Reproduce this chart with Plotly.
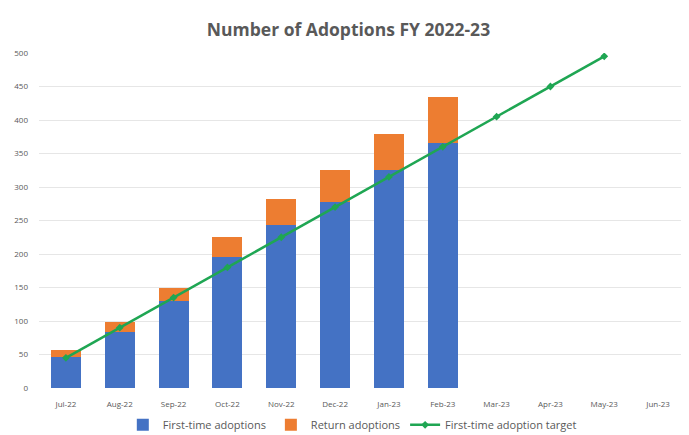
import plotly.graph_objects as go

months = ["Jul-22", "Aug-22", "Sep-22", "Oct-22", "Nov-22", "Dec-22",
          "Jan-23", "Feb-23", "Mar-23", "Apr-23", "May-23", "Jun-23"]
first_time = [47, 84, 130, 196, 243, 277, 325, 366, None, None, None, None]
returns = [9, 14, 19, 29, 39, 48, 54, 68, None, None, None, None]
target = [45, 90, 135, 180, 225, 270, 315, 360, 405, 450, 495, None]
y_ticks = [0, 50, 100, 150, 200, 250, 300, 350, 400, 450, 500]

font_family = "Open Sans, Liberation Sans, sans-serif"
gray = "#595959"

fig = go.Figure()
fig.add_trace(go.Bar(x=months, y=first_time, name="First-time adoptions",
                     marker=dict(color="#4472C4", line=dict(width=0))))
fig.add_trace(go.Bar(x=months, y=returns, name="Return adoptions",
                     marker=dict(color="#ED7D31", line=dict(width=0))))
fig.add_trace(go.Scatter(x=months, y=target, name="First-time adoption target",
                         mode="lines+markers",
                         line=dict(color="#1FA653", width=2.5),
                         marker=dict(symbol="diamond", size=6, color="#1FA653")))

# The page body has an 8px default margin, so the figure is drawn 8px smaller
fig.update_layout(
    barmode="stack",
    bargap=0.44,
    width=681, height=427,
    margin=dict(l=31, r=4, t=45, b=47, autoexpand=False),
    paper_bgcolor="white", plot_bgcolor="white",
    font=dict(family=font_family, color=gray, size=8),
    title=dict(text="<b>Number of Adoptions FY 2022-23</b>", x=0.5, xanchor="center",
               y=0.948, yanchor="middle",
               font=dict(size=17.5, color=gray, family=font_family)),
    legend=dict(orientation="h", x=0.485, xanchor="center", y=-0.11, yanchor="middle",
                font=dict(size=11, color=gray), traceorder="normal",
                itemwidth=30),
    showlegend=True,
)
fig.update_xaxes(showgrid=False, showline=False, ticks="", tickfont=dict(size=8, color=gray),
                 categoryorder="array", categoryarray=months, ticklabelstandoff=10,
                 automargin=False, range=[-0.5, len(months) - 0.5])
fig.update_yaxes(range=[0, 500], tickvals=y_ticks, showgrid=True, gridcolor="#E6E6E6",
                 gridwidth=1, zeroline=False, showline=False, ticks="",
                 tickfont=dict(size=8, color=gray), ticklabelstandoff=10,
                 automargin=False)

fig.write_html("out.html")
